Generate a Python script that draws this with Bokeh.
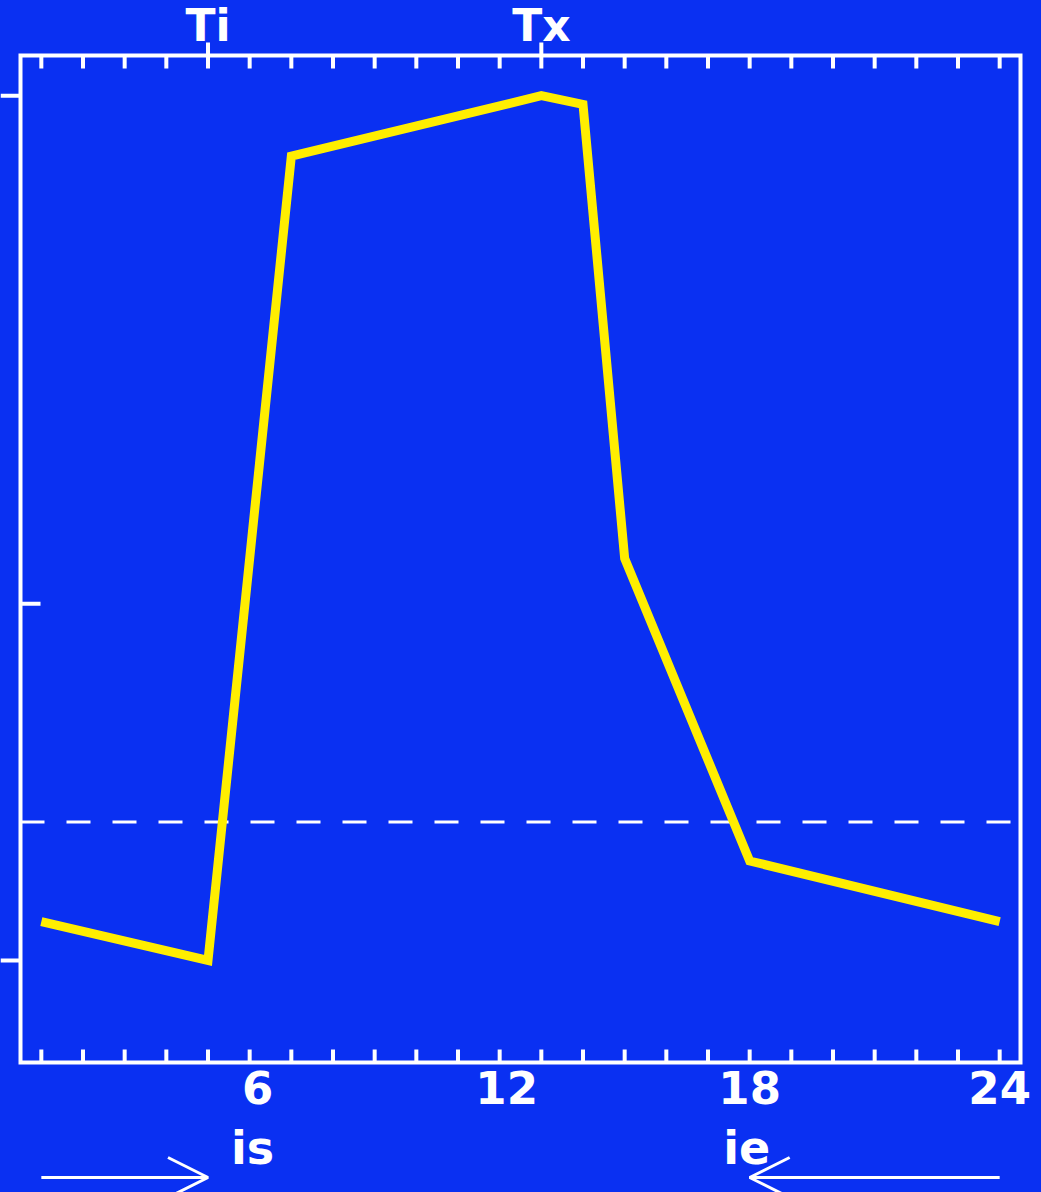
import math
from bokeh.plotting import figure
from bokeh.models import Range1d, Arrow, OpenHead
from bokeh.core.properties import value
from bokeh.embed import file_html
from bokeh.resources import INLINE

# Hourly temperature curve (hour of day, degrees)
hours = [1, 5, 7, 13, 14, 15, 18, 24]
temps = [10.9, 10.0, 28.6, 30.0, 29.8, 19.3, 12.3, 10.9]

# Marked times and index bounds
t_marks = [5, 13]
t_mark_labels = ["Ti", "Tx"]
hour_ticks = [6, 12, 18, 24]
hour_tick_labels = ["6", "12", "18", "24"]
hour_minor = list(range(1, 25))
is_hour, ie_hour = 5, 18
first_hour, last_hour = 1, 24

# Vertical reference levels
temp_ticks = [10.0, 30.0]
temp_minor = [18.25]
threshold = 13.2

# Plot box in data units and its placement on the canvas (pixels)
W, H = 1041, 1192
X0, X1 = 0.5, 24.5
Y0, Y1 = 7.64, 30.93
BOX_LEFT, BOX_TOP, BOX_W, BOX_H = 20, 55, 1000, 1007

sx = BOX_W / (X1 - X0)
sy = BOX_H / (Y1 - Y0)
x_range = Range1d(X0 - BOX_LEFT / sx, X0 + (W - BOX_LEFT) / sx)
y_range = Range1d(Y1 - (H - BOX_TOP) / sy, Y1 + BOX_TOP / sy)

BG = "#0a30f2"
FG = "white"
YEL = "#ffee00"
FONT = value("DejaVu Sans")

p = figure(width=W, height=H, output_backend="svg", toolbar_location=None,
           x_range=x_range, y_range=y_range,
           x_axis_location=None, y_axis_location=None, min_border=0)
p.background_fill_color = BG
p.border_fill_color = BG
p.outline_line_color = None
p.xgrid.visible = False
p.ygrid.visible = False
p.styles = {"background-color": BG}

# Threshold line across the box
p.segment(x0=[X0], y0=[threshold], x1=[X1], y1=[threshold], line_color=FG,
          line_width=3, line_dash="24 22")

# Temperature curve
p.line(hours, temps, line_color=YEL, line_width=9, line_join="miter")

# Box outline
p.quad(left=[X0], right=[X1], bottom=[Y0], top=[Y1], fill_color=None,
       line_color=FG, line_width=4, line_join="miter")

TICK = 13
# Hourly ticks, pointing inwards from the bottom and top edges
p.ray(x=hour_minor, y=[Y0] * len(hour_minor), length=TICK, length_units="screen",
      angle=math.pi / 2, line_color=FG, line_width=4)
p.ray(x=hour_minor, y=[Y1] * len(hour_minor), length=TICK, length_units="screen",
      angle=-math.pi / 2, line_color=FG, line_width=4)
# Marked times poke out above the box
p.ray(x=t_marks, y=[Y1] * len(t_marks), length=TICK, length_units="screen",
      angle=math.pi / 2, line_color=FG, line_width=4)
# Left edge: min/max outwards, one inner tick
p.ray(x=[X0] * len(temp_ticks), y=temp_ticks, length=20, length_units="screen",
      angle=math.pi, line_color=FG, line_width=4)
p.ray(x=[X0] * len(temp_minor), y=temp_minor, length=20, length_units="screen",
      angle=0, line_color=FG, line_width=4)

# Hour labels under the box
p.text(x=hour_ticks, y=[Y0] * len(hour_ticks), text=hour_tick_labels,
       x_offset=[8, 7, 0, 0], y_offset=25,
       text_align="center", text_baseline="alphabetic", text_color=FG,
       text_font=FONT, text_font_style="bold", text_font_size="45px")

# Marked time labels above the box
p.text(x=t_marks, y=[Y1] * len(t_marks), text=t_mark_labels, y_offset=-30,
       text_align="center", text_baseline="alphabetic", text_color=FG,
       text_font=FONT, text_font_style="bold", text_font_size="44px")

# Index labels and arrows below the hour labels
p.text(x=[6.07, 17.93], y=[Y0, Y0], text=["is", "ie"], y_offset=85,
       text_align="center", text_baseline="alphabetic", text_color=FG,
       text_font=FONT, text_font_style="bold", text_font_size="46px")

arrow_y = Y1 - (1177 - BOX_TOP) / sy
p.add_layout(Arrow(end=OpenHead(size=40, line_color=FG, line_width=3),
                   x_start=first_hour, y_start=arrow_y, x_end=is_hour, y_end=arrow_y,
                   line_color=FG, line_width=3))
p.add_layout(Arrow(end=OpenHead(size=40, line_color=FG, line_width=3),
                   x_start=last_hour, y_start=arrow_y, x_end=ie_hour, y_end=arrow_y,
                   line_color=FG, line_width=3))

html = file_html(p, INLINE)
html = html.replace("<body>", '<body style="margin:0;background:%s">' % BG, 1)
open("out.html", "w").write(html)
